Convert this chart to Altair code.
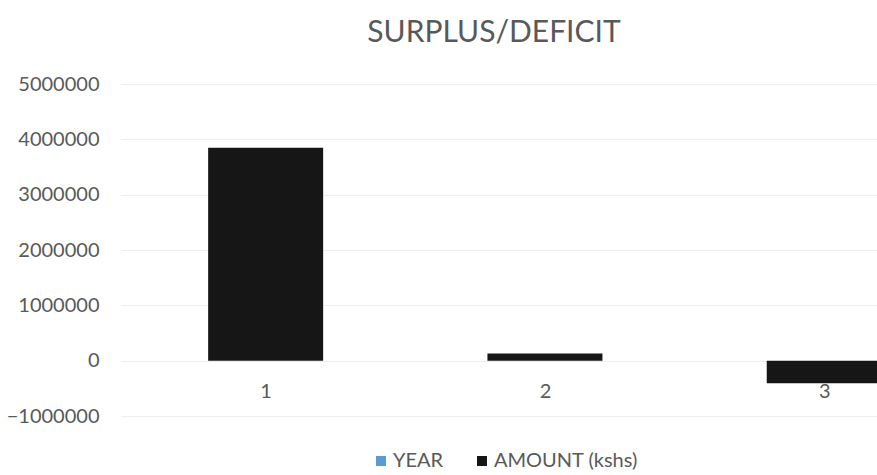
import altair as alt
import pandas as pd

# Surplus / deficit per period, in Kenyan shillings
categories = [1, 2, 3]
amounts = [3850000, 130000, -410000]
series_names = ["YEAR", "AMOUNT (kshs)"]
series_colors = ["#5B9BD5", "#161616"]

df = pd.DataFrame({
    "period": categories,
    "amount": amounts,
    "series": ["AMOUNT (kshs)"] * len(categories),
})

FONT = "Lato"
GREY = "#595959"

bars = alt.Chart(df).mark_bar(size=115, orient="vertical", clip=True).encode(
    x=alt.X(
        "period:Q",
        scale=alt.Scale(domain=[0.5, 3.171], nice=False, zero=False),
        axis=alt.Axis(
            values=categories, format="d", title=None, grid=False,
            domain=False, ticks=False, labelFontSize=20, labelColor=GREY,
            labelFont=FONT, offset=-35, labelPadding=0,
        ),
    ),
    y=alt.Y(
        "amount:Q",
        scale=alt.Scale(domain=[-1000000, 5000000], nice=False),
        axis=alt.Axis(
            values=[-1000000, 0, 1000000, 2000000, 3000000, 4000000, 5000000],
            format="d", title=None, domain=False, ticks=False,
            labelFontSize=20, labelColor=GREY, labelFont=FONT,
            labelPadding=22, gridColor="#eeeeee", gridWidth=1,
        ),
    ),
    color=alt.Color(
        "series:N",
        scale=alt.Scale(domain=series_names, range=series_colors),
        legend=alt.Legend(
            title=None, orient="none", direction="horizontal",
            legendX=250, legendY=367, symbolType="square", symbolSize=100,
            symbolStrokeWidth=0, labelFontSize=20, labelFont=FONT,
            labelColor=GREY, columnPadding=28, labelOffset=2,
        ),
    ),
)

chart = bars.properties(
    width=756,
    height=332,
    title=alt.TitleParams(
        "SURPLUS/DEFICIT", fontSize=30, font=FONT, fontWeight="normal",
        color=GREY, anchor="middle", dx=-5, offset=26,
    ),
    autosize=alt.AutoSizeParams(type="none"),
    padding={"left": 121, "top": 84, "right": 0, "bottom": 59},
).configure_view(stroke=None)

chart.save("out.html", embed_options={"renderer": "svg", "actions": False})
